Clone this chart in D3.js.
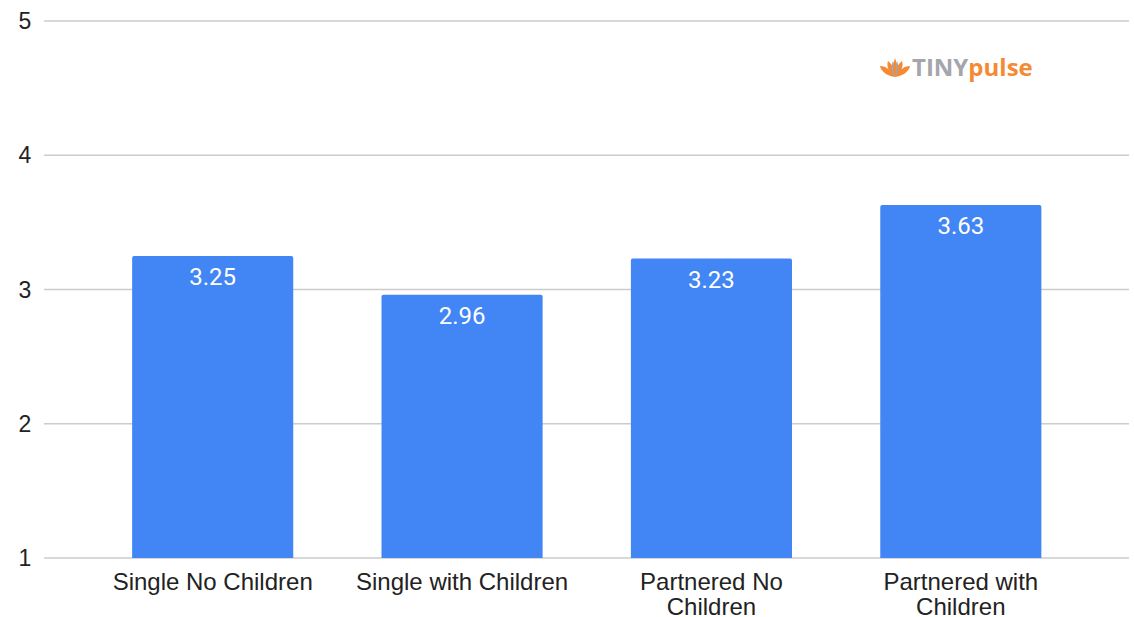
<!DOCTYPE html>
<html><head><meta charset="utf-8">
<script src="https://cdn.jsdelivr.net/npm/d3@7"></script>
<style>body{margin:0;background:#fff;} svg{display:block;}</style>
</head><body>
<svg id="chart" width="1134" height="617"></svg>
<script>
const categories = ["Single No Children","Single with Children","Partnered No Children","Partnered with Children"];
const labelLines = [["Single No Children"],["Single with Children"],["Partnered No","Children"],["Partnered with","Children"]];
const values = [3.25, 2.96, 3.23, 3.63];
const yTicks = [1,2,3,4,5];

const svg = d3.select("#chart");
const y = d3.scaleLinear().domain([1,5]).range([558,21]);
const x = d3.scaleBand().domain(categories).range([88,1085.5]).paddingInner(0.354).paddingOuter(0.177);

// grid
svg.append("g").selectAll("line").data(yTicks).join("line")
  .attr("x1",44).attr("x2",1129).attr("y1",d=>y(d)).attr("y2",d=>y(d))
  .attr("stroke","#cccccc").attr("stroke-width",1.5);

// y axis labels
svg.append("g").selectAll("text").data(yTicks).join("text")
  .attr("x",25).attr("y",d=>y(d)).attr("dy","0.35em").attr("text-anchor","middle")
  .attr("font-family","Liberation Sans, Arial, sans-serif").attr("font-size",23).attr("fill","#222")
  .text(d=>d);

// bars
const r = 2;
svg.append("g").selectAll("path").data(values).join("path")
  .attr("fill","#4285f4")
  .attr("d",(d,i)=>{
    const x0 = x(categories[i]), w = x.bandwidth(), y0 = y(d), y1 = y(1);
    return `M${x0},${y1}V${y0+r}Q${x0},${y0} ${x0+r},${y0}H${x0+w-r}Q${x0+w},${y0} ${x0+w},${y0+r}V${y1}Z`;
  });

// value labels
svg.append("g").selectAll("text").data(values).join("text")
  .attr("x",(d,i)=>x(categories[i])+x.bandwidth()/2).attr("y",d=>y(d)+29.5)
  .attr("text-anchor","middle").attr("font-family","Roboto, Arial, sans-serif").attr("font-size",24)
  .attr("fill","#ffffff").text(d=>d.toFixed(2));

// x labels
const xl = svg.append("g").selectAll("text").data(categories).join("text")
  .attr("x",d=>x(d)+x.bandwidth()/2).attr("y",589.5)
  .attr("text-anchor","middle").attr("font-family","Liberation Sans, Arial, sans-serif").attr("font-size",24).attr("fill","#222");
xl.each(function(d,i){
  d3.select(this).selectAll("tspan").data(labelLines[i]).join("tspan")
    .attr("x",x(d)+x.bandwidth()/2).attr("dy",(t,j)=>j===0?0:25).text(t=>t);
});

// logo
const logo = svg.append("g").attr("transform","translate(880,57)");
const petals = [
  {d:"M15,20 C8,19 1,15 0,9 C5,9 10,12 15,20Z", c:"#f58a34"},
  {d:"M15,20 C22,19 29,15 30,9 C25,9 20,12 15,20Z", c:"#f58a34"},
  {d:"M15,20 C9,16 6,9 8,4 C12,7 15,13 15,20Z", c:"#f58a34"},
  {d:"M15,20 C21,16 24,9 22,4 C18,7 15,13 15,20Z", c:"#f58a34"},
  {d:"M15,20 C11,15 11,8 13,4 C15,8 15,14 15,20Z", c:"#a3a6ab"},
  {d:"M15,20 C19,15 19,8 17,4 C15,8 15,14 15,20Z", c:"#a3a6ab"},
  {d:"M15,20 C13,14 13,6 15,1 C17,6 17,14 15,20Z", c:"#f58a34"}
];
logo.selectAll("path").data(petals).join("path").attr("d",p=>p.d).attr("fill",p=>p.c);
const lt = logo.append("text").attr("x",32).attr("y",19)
  .attr("font-family","Open Sans, Liberation Sans, sans-serif").attr("font-weight","bold").attr("font-size",24);
lt.append("tspan").attr("fill","#a3a6ab").text("TINY");
lt.append("tspan").attr("fill","#f58a34").text("pulse");
</script>
</body></html>
